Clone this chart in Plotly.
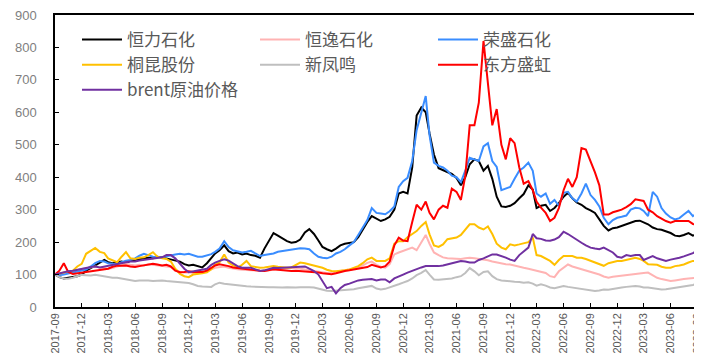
import plotly.graph_objects as go

# semi-monthly observation dates (1st and 16th of each month), 2017-09 .. 2023-09
dates = []
for yr in range(2017, 2024):
    for mo in range(1, 13):
        if (yr, mo) < (2017, 9) or (yr, mo) > (2023, 9):
            continue
        dates += [f"{yr}-{mo:02d}-01", f"{yr}-{mo:02d}-16"]

names = ["恒力石化", "恒逸石化", "荣盛石化", "桐昆股份", "新凤鸣", "东方盛虹", "brent原油价格"]

hengli = [
    100, 92, 88, 90, 92, 95, 100, 112, 120, 128, 135, 145,
    138, 135, 138, 140, 136, 142, 145, 148, 150, 152, 150, 155,
    153, 150, 148, 145, 140, 132, 128, 130, 126, 122, 135, 150,
    165, 175, 190, 172, 165, 168, 162, 165, 160, 158, 152, 180,
    205, 228, 220, 212, 203, 198, 200, 208, 230, 240, 225, 205,
    185, 178, 172, 180, 190, 195, 198, 200, 215, 240, 262, 280,
    272, 265, 270, 278, 300, 350, 355, 350, 430, 590, 615, 600,
    535, 470, 428, 422, 418, 410, 398, 375, 400, 440, 455, 450,
    420, 435, 395, 340, 310, 308, 312, 320, 335, 348, 375, 362,
    305, 312, 315, 296, 305, 320, 340, 352, 335, 322, 315, 305,
    298, 290, 270, 250, 236, 243, 245, 250, 255, 262, 265, 266,
    262, 255, 245, 240, 238, 234, 228, 220, 218, 222, 228, 220,
    225, 222,
]

hengyi = [
    100, 104, 108, 110, 112, 115, 118, 120, 123, 125, 122, 120,
    118, 120, 125, 130, 133, 130, 128, 130, 128, 132, 130, 128,
    126, 125, 123, 115, 108, 106, 107, 105, 104, 106, 110, 116,
    121, 123, 125, 121, 118, 116, 115, 114, 112, 111, 110, 111,
    113, 115, 116, 118, 120, 121, 120, 118, 116, 113, 111, 108,
    106, 105, 106, 108, 110, 112, 115, 118, 121, 128, 136, 140,
    130, 124, 121, 132, 162, 168, 173, 180, 183, 175, 200, 222,
    195, 168, 160, 153, 150, 149, 147, 148, 150, 152, 150, 148,
    147, 144, 140, 137, 135, 132, 131, 127, 124, 121, 118, 115,
    111, 110, 105, 95, 92, 110, 121, 131, 125, 121, 116, 112,
    108, 106, 100, 94, 90, 93, 95, 96, 98, 100, 101, 103,
    105, 106, 98, 90, 86, 83, 80, 82, 85, 86, 88, 90,
    92, 92,
]

rongsheng = [
    100, 98, 100, 103, 105, 108, 112, 115, 125, 135, 142, 140,
    135, 133, 132, 138, 143, 145, 150, 158, 164, 160, 155, 153,
    153, 156, 160, 162, 164, 162, 164, 160, 155, 155, 160, 163,
    170, 180, 203, 185, 175, 172, 168, 170, 173, 165, 157, 160,
    162, 165, 170, 172, 175, 178, 180, 181, 180, 178, 165, 155,
    152, 150, 155, 165, 170, 178, 190, 200, 222, 245, 268, 305,
    290, 288, 286, 295, 310, 370, 388, 398, 450, 545, 600, 650,
    530, 445, 435, 430, 420, 405, 400, 385, 420, 460, 455, 450,
    495, 505, 450, 432, 360, 365, 370, 395, 420, 430, 445, 420,
    350, 340, 350, 318, 330, 312, 352, 355, 335, 325, 350, 380,
    345, 330, 310, 275, 255, 268, 275, 278, 282, 300, 306, 304,
    296, 280, 355, 340, 305, 288, 276, 270, 274, 285, 296, 280,
    290, 291,
]

tongkun = [
    100, 103, 106, 108, 112, 125, 133, 164, 172, 182, 170, 166,
    150, 145, 138, 155, 169, 150, 148, 152, 153, 160, 169, 155,
    150, 148, 140, 118, 102, 95, 92, 100, 101, 104, 107, 116,
    130, 138, 162, 137, 128, 121, 130, 142, 126, 124, 121, 122,
    124, 126, 124, 122, 121, 122, 130, 137, 135, 132, 128, 124,
    121, 115, 111, 110, 111, 113, 116, 120, 126, 135, 147, 152,
    142, 142, 142, 150, 195, 203, 203, 215, 224, 234, 250, 262,
    224, 190, 185, 193, 209, 212, 214, 222, 240, 255, 255, 245,
    239, 248, 225, 195, 183, 178, 193, 190, 193, 196, 200, 214,
    160, 157, 150, 142, 130, 145, 157, 156, 157, 152, 152, 148,
    142, 138, 132, 127, 135, 138, 142, 142, 145, 147, 152, 148,
    142, 132, 131, 130, 124, 121, 121, 126, 128, 131, 137, 142,
    142, 142,
]

xinfengming = [
    100, 92, 88, 87, 90, 95, 99, 98, 97, 99, 96, 93,
    92, 90, 90, 87, 85, 82, 80, 82, 83, 82, 80, 81,
    82, 80, 79, 78, 77, 76, 74, 70, 65, 63, 62, 62,
    70, 75, 72, 70, 68, 66, 65, 64, 63, 62, 62, 62,
    61, 61, 60, 60, 61, 60, 60, 61, 62, 61, 60, 57,
    52, 50, 49, 50, 52, 52, 54, 55, 58, 60, 62, 65,
    57, 54, 56, 60, 65, 70, 75, 80, 88, 98, 105, 114,
    100, 85, 84, 85, 85, 88, 92, 95, 105, 120, 110, 98,
    108, 110, 95, 86, 82, 80, 80, 78, 77, 75, 76, 72,
    66, 70, 66, 60, 58, 62, 65, 62, 60, 58, 55, 52,
    50, 49, 51, 54, 53, 56, 58, 60, 62, 64, 65, 63,
    60, 60, 58, 56, 54, 55, 57, 60, 61, 63, 65, 68,
    72, 75,
]

dongfang = [
    100, 112, 135, 108, 102, 104, 107, 110, 112, 113, 114, 116,
    118, 124, 128, 127, 128, 125, 123, 126, 128, 130, 133, 131,
    128, 130, 125, 112, 107, 108, 110, 108, 107, 108, 112, 120,
    128, 132, 130, 126, 122, 120, 118, 117, 116, 114, 112, 111,
    113, 116, 115, 113, 112, 111, 112, 111, 111, 109, 108, 106,
    104, 102, 101, 104, 108, 111, 113, 116, 118, 121, 123, 130,
    125, 122, 126, 140, 190, 214, 205, 203, 262, 315, 300, 325,
    290, 270, 300, 312, 306, 365, 355, 330, 405, 560, 560, 630,
    820, 680, 560, 610, 500, 455, 520, 505, 430, 380, 388, 360,
    325, 306, 290, 265, 275, 305, 360, 395, 370, 400, 490, 485,
    450, 415, 375, 285, 285, 292, 296, 300, 308, 317, 332, 330,
    327, 300, 292, 280, 272, 265, 260, 265, 265, 266, 265, 256,
    252, 250,
]

brent = [
    100, 104, 107, 110, 112, 114, 116, 120, 123, 125, 122, 125,
    128, 130, 133, 136, 138, 140, 140, 143, 145, 146, 148, 150,
    153, 160, 160, 150, 133, 118, 107, 110, 112, 115, 118, 130,
    137, 142, 147, 143, 135, 126, 121, 122, 121, 116, 111, 113,
    118, 121, 120, 121, 121, 122, 124, 126, 125, 118, 111, 100,
    80, 58, 62, 42, 58, 68, 72, 78, 82, 84, 85, 86,
    82, 85, 85, 76, 88, 95, 100, 106, 112, 117, 122, 126,
    126, 125, 126, 128, 131, 134, 138, 142, 140, 137, 137, 145,
    150, 157, 162, 162, 158, 152, 146, 142, 160, 172, 183, 225,
    212, 210, 205, 204, 208, 215, 232, 225, 216, 205, 198, 190,
    183, 180, 178, 183, 176, 168, 155, 152, 160, 157, 160, 160,
    145, 152, 157, 150, 145, 142, 146, 148, 152, 156, 160, 166,
    175, 183,
]

series = [hengli, hengyi, rongsheng, tongkun, xinfengming, dongfang, brent]
colors = ["#000000", "#FFB3B3", "#3A8DFF", "#FFC000", "#BFBFBF", "#FF0000", "#7030A0"]

fig = go.Figure()
for name, vals, col in zip(names, series, colors):
    fig.add_trace(go.Scatter(x=dates, y=vals, name=name, mode="lines",
                             line=dict(color=col, width=2)))

fig.update_layout(
    width=702, height=362,
    margin=dict(l=47, r=8, t=7, b=63, autoexpand=False),
    paper_bgcolor="white", plot_bgcolor="white",
    showlegend=True,
    legend=dict(orientation="h", x=0.034, y=0.976, xanchor="left", yanchor="top",
                entrywidth=123, entrywidthmode="pixels", itemwidth=40,
                font=dict(family="Noto Sans CJK SC", size=17, color="#595959"),
                bgcolor="rgba(0,0,0,0)"),
)
fig.update_xaxes(
    type="date", range=["2017-09-01", "2023-09-16"],
    tick0="2017-09-01", dtick="M3", tickformat="%Y-%m", tickangle=-90,
    ticks="inside", ticklen=4, tickcolor="black", automargin=False,
    ticklabeloverflow="allow",
    showline=True, linecolor="black", linewidth=1.5, mirror=True,
    showgrid=False, zeroline=False,
    tickfont=dict(family="Liberation Sans", size=11, color="#595959"),
)
fig.update_yaxes(
    range=[0, 900], dtick=100, ticks="inside", ticklen=4, tickcolor="black",
    showline=True, linecolor="black", linewidth=1.5, automargin=False,
    ticklabeloverflow="allow",
    showgrid=False, zeroline=False, ticklabelstandoff=14,
    tickfont=dict(family="Liberation Sans", size=13, color="#808080"),
)

fig.write_html("out.html")
